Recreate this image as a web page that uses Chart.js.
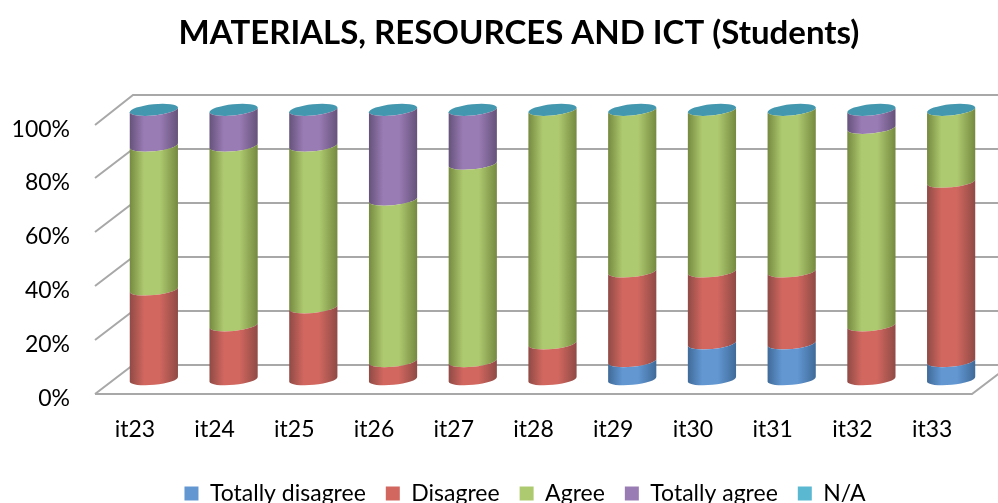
<!DOCTYPE html>
<html>
<head>
<meta charset="utf-8">
<style>
  html, body { margin: 0; padding: 0; background: #fff; }
  #wrap { width: 998px; height: 503px; }
</style>
<script src="https://cdn.jsdelivr.net/npm/chart.js@4"></script>
</head>
<body>
<div id="wrap"><canvas id="chart" width="998" height="503"></canvas></div>
<script>
const categories = ['it23', 'it24', 'it25', 'it26', 'it27', 'it28', 'it29', 'it30', 'it31', 'it32', 'it33'];
const tickLabels = ['0%', '20%', '40%', '60%', '80%', '100%'];

const totallyDisagree = [0, 0, 0, 0, 0, 0, 6.7, 13.3, 13.3, 0, 6.7];
const disagree = [33.3, 20, 26.7, 6.7, 6.7, 13.3, 33.3, 26.7, 26.7, 20, 66.6];
const agree = [53.4, 66.7, 60, 60, 73.3, 86.7, 60, 60, 60, 73.3, 26.7];
const totallyAgree = [13.3, 13.3, 13.3, 33.3, 20, 0, 0, 0, 0, 6.7, 0];
const notApplicable = [0, 0, 0, 0, 0, 0, 0, 0, 0, 0, 0];

const fontName = 'Lato, "Open Sans", sans-serif';
const naColor = '#5ab8d1';
const depthX = 38;
const depthY = 29.5;
const frontShift = 4.5; // tick labels sit a little under the front wall lines

// Cylinders instead of flat bars. The N/A series has zero height, it only gives the top cap.
Chart.BarElement.prototype.draw = function (ctx) {
    const opts = this.options;
    const cx = this.x + depthX / 2;
    const top = this.y - frontShift - depthY / 2;
    const bottom = this.base - frontShift - depthY / 2;
    const rx = this.width / 2 + 0.3;
    const ry = 5.6;
    const tilt = -0.1;

    ctx.save();
    if (opts.backgroundColor === naColor) {
        ctx.fillStyle = '#4397ae';
        ctx.beginPath();
        ctx.ellipse(cx, top, rx, ry, tilt, 0, Math.PI * 2);
        ctx.fill();
    } else if (bottom - top > 0.5) {
        const grad = ctx.createLinearGradient(cx - rx, 0, cx + rx, 0);
        grad.addColorStop(0, opts.borderColor);
        grad.addColorStop(0.3, opts.backgroundColor);
        grad.addColorStop(0.62, opts.backgroundColor);
        grad.addColorStop(1, opts.borderColor);
        ctx.fillStyle = grad;
        ctx.beginPath();
        ctx.ellipse(cx, top, rx, ry, tilt, 0, Math.PI);
        ctx.ellipse(cx, bottom, rx, ry, tilt, Math.PI, 0, true);
        ctx.closePath();
        ctx.fill();
    }
    ctx.restore();
};

// Back wall, floor and side wall lines, taken from the y scale ticks
const wallPlugin = {
    id: 'walls',
    afterLayout(chart) {
        chart.titleBlock.left = 66;
        chart.legend.left += 78;
    },
    beforeDatasetsDraw(chart) {
        const { ctx, scales, chartArea } = chart;
        const left = chartArea.left;
        const right = chartArea.right;
        ctx.save();
        ctx.strokeStyle = '#a8a8a8';
        ctx.lineWidth = 2;
        scales.y.ticks.forEach(tick => {
            const y = scales.y.getPixelForValue(tick.value) - frontShift;
            const backY = Math.round(y - depthY);
            ctx.beginPath();
            ctx.moveTo(left, Math.round(y));
            ctx.lineTo(left + depthX, backY);
            ctx.lineTo(right + depthX, backY);
            ctx.stroke();
        });
        const floorY = Math.round(scales.y.getPixelForValue(0) - frontShift);
        ctx.beginPath();
        ctx.moveTo(left, floorY);
        ctx.lineTo(right, floorY);
        ctx.lineTo(right + depthX, Math.round(floorY - depthY));
        ctx.stroke();
        ctx.restore();
    }
};

function series(label, data, color, edge) {
    return { label: label, data: data, backgroundColor: color, borderColor: edge, borderWidth: 0, clip: false };
}

new Chart(document.getElementById('chart').getContext('2d'), {
    type: 'bar',
    data: {
        labels: categories,
        datasets: [
            series('Totally disagree', totallyDisagree, '#6297d2', '#3f6a98'),
            series('Disagree', disagree, '#d1675f', '#8f4a45'),
            series('Agree', agree, '#aeca70', '#75893f'),
            series('Totally agree', totallyAgree, '#9a7cb5', '#65527a'),
            series('N/A', notApplicable, naColor, '#4397ae')
        ]
    },
    options: {
        responsive: false,
        animation: false,
        layout: { padding: { right: 26, left: 0, top: 0, bottom: -12 } },
        datasets: { bar: { categoryPercentage: 1, barPercentage: 0.6 } },
        scales: {
            x: {
                stacked: true,
                grid: { display: false },
                border: { display: false },
                ticks: { color: '#000', font: { family: fontName, size: 23 }, padding: 9.5, maxRotation: 0 },
                afterFit(axis) { axis.height = 63.5; }
            },
            y: {
                stacked: true,
                min: 0,
                max: 100,
                grid: { display: false },
                border: { display: false },
                ticks: {
                    stepSize: 20,
                    color: '#000',
                    font: { family: fontName, size: 23 },
                    padding: 17,
                    callback: (value) => tickLabels[value / 20]
                },
                afterFit(axis) { axis.width = 95; }
            }
        },
        plugins: {
            title: {
                display: true,
                text: 'MATERIALS, RESOURCES AND ICT (Students)',
                color: '#000',
                font: { family: fontName, size: 33, weight: 'bold' },
                padding: { top: 14, bottom: 75.5 }
            },
            legend: {
                position: 'bottom',
                labels: {
                    color: '#000',
                    font: { family: fontName, size: 23 },
                    boxWidth: 14,
                    boxHeight: 14,
                    padding: 20
                }
            },
            tooltip: { enabled: false }
        }
    },
    plugins: [wallPlugin]
});
</script>
</body>
</html>
